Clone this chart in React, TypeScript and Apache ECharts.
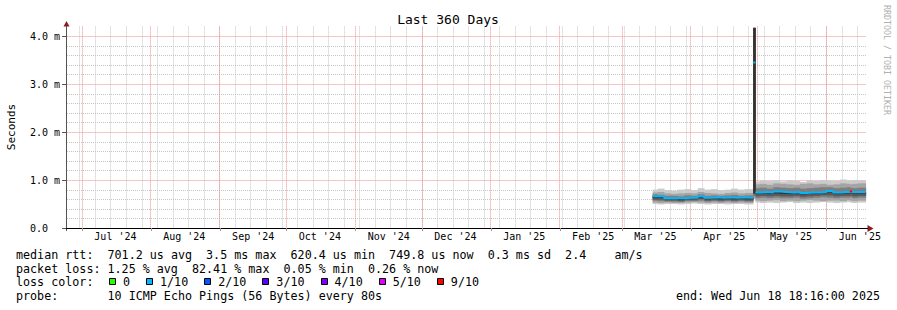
import React, { useEffect, useRef } from 'react';
import * as echarts from 'echarts';

const MONO = '"DejaVu Sans Mono", "Liberation Mono", monospace';

const TITLE = 'Last 360 Days';
const Y_AXIS_NAME = 'Seconds';
const WATERMARK = 'RRDTOOL / TOBI OETIKER';

const END_TIME = '2025-06-18T18:16:00Z';
const SPAN_DAYS = 360;

const MONTH_STARTS = ['2024-07-01', '2024-08-01', '2024-09-01', '2024-10-01', '2024-11-01', '2024-12-01', '2025-01-01', '2025-02-01', '2025-03-01', '2025-04-01', '2025-05-01', '2025-06-01'];
const MONTH_LABELS = ["Jul '24", "Aug '24", "Sep '24", "Oct '24", "Nov '24", "Dec '24", "Jan '25", "Feb '25", "Mar '25", "Apr '25", "May '25", "Jun '25"];
const MONTH_LABEL_OFFSET_DAYS = 15;
const FIRST_WEEK_LINE = '2024-06-30';

const Y_MAX = 4.2;
const Y_MAJOR = [0, 1, 2, 3, 4];
const Y_LABELS = ['0.0', '1.0 m', '2.0 m', '3.0 m', '4.0 m'];
const Y_MINOR = [0.2, 0.4, 0.6, 0.8, 1.2, 1.4, 1.6, 1.8, 2.2, 2.4, 2.6, 2.8, 3.2, 3.4, 3.6, 3.8];

// data slots (start of each consolidated step), last slot ends at DATA_END
const SLOT_STARTS = [
  '2025-03-14T18:00:00Z', '2025-03-17', '2025-03-20', '2025-03-23', '2025-03-26', '2025-03-29', '2025-04-01', '2025-04-04',
  '2025-04-07', '2025-04-10', '2025-04-13', '2025-04-16', '2025-04-19', '2025-04-22', '2025-04-25',
  '2025-04-29',
  '2025-04-30', '2025-05-02', '2025-05-05', '2025-05-08', '2025-05-11', '2025-05-14', '2025-05-17', '2025-05-20',
  '2025-05-23', '2025-05-26', '2025-05-29', '2025-06-01', '2025-06-04', '2025-06-07', '2025-06-10', '2025-06-11T12:00:00Z',
  '2025-06-12T12:00:00Z', '2025-06-15',
];
const DATA_END = '2025-06-18T16:00:00Z';

// median rtt (ms)
const MEDIAN = [
  0.66, 0.66, 0.62, 0.62, 0.62, 0.63, 0.63, 0.66, 0.63, 0.64, 0.63, 0.64, 0.63, 0.64, 0.63,
  3.45,
  0.74, 0.75, 0.74, 0.76, 0.75, 0.74, 0.75, 0.73, 0.74, 0.74, 0.75, 0.77, 0.74, 0.75, 0.75, 0.76, 0.75, 0.75,
];
// packet loss (%)
const LOSS_PCT = [
  0.5, 1.2, 0.8, 0.6, 1.0, 0.9, 0.7, 1.1, 0.6, 0.8, 0.9, 0.7, 1.0, 0.8, 0.6,
  2.1,
  0.4, 0.6, 0.5, 0.3, 0.7, 0.5, 0.4, 0.6, 0.5, 0.3, 0.5, 0.4, 0.6, 0.5, 0.4, 82.41, 0.3, 0.26,
];

// smoke: ping spread (ms), outer pair -> center pair
const SMOKE1_HI = [
  0.80, 0.82, 0.79, 0.78, 0.80, 0.81, 0.79, 0.83, 0.80, 0.81, 0.79, 0.80, 0.82, 0.80, 0.81,
  4.17,
  0.97, 0.99, 0.98, 1.00, 0.97, 0.99, 0.98, 0.96, 0.99, 0.98, 1.00, 0.99, 0.98, 1.01, 0.99, 0.98, 1.00, 0.99,
];
const SMOKE1_LO = [
  0.50, 0.49, 0.50, 0.50, 0.49, 0.50, 0.51, 0.50, 0.49, 0.50, 0.50, 0.49, 0.50, 0.50, 0.49,
  0.60,
  0.53, 0.52, 0.53, 0.52, 0.53, 0.54, 0.52, 0.53, 0.52, 0.53, 0.54, 0.53, 0.52, 0.53, 0.54, 0.53, 0.52, 0.53,
];
const SMOKE2_HI = [
  0.74, 0.75, 0.72, 0.71, 0.72, 0.73, 0.72, 0.75, 0.73, 0.72, 0.71, 0.73, 0.74, 0.72, 0.73,
  4.17,
  0.91, 0.92, 0.90, 0.93, 0.92, 0.91, 0.90, 0.92, 0.93, 0.91, 0.92, 0.90, 0.91, 0.93, 0.92, 0.91, 0.92, 0.93,
];
const SMOKE2_LO = [
  0.53, 0.52, 0.53, 0.52, 0.52, 0.53, 0.54, 0.53, 0.52, 0.53, 0.52, 0.53, 0.52, 0.53, 0.52,
  0.62,
  0.57, 0.56, 0.57, 0.58, 0.56, 0.57, 0.56, 0.57, 0.58, 0.57, 0.56, 0.57, 0.57, 0.56, 0.58, 0.57, 0.56, 0.57,
];
const SMOKE3_HI = [
  0.70, 0.69, 0.67, 0.67, 0.66, 0.68, 0.67, 0.70, 0.67, 0.68, 0.67, 0.68, 0.69, 0.67, 0.68,
  4.17,
  0.83, 0.84, 0.82, 0.85, 0.84, 0.83, 0.84, 0.82, 0.83, 0.84, 0.85, 0.85, 0.83, 0.84, 0.85, 0.84, 0.83, 0.84,
];
const SMOKE3_LO = [
  0.57, 0.56, 0.55, 0.55, 0.54, 0.56, 0.56, 0.57, 0.55, 0.56, 0.55, 0.56, 0.55, 0.56, 0.55,
  0.66,
  0.62, 0.63, 0.62, 0.63, 0.62, 0.62, 0.63, 0.61, 0.62, 0.63, 0.64, 0.63, 0.62, 0.63, 0.63, 0.64, 0.62, 0.63,
];
const SMOKE4_HI = [
  0.66, 0.66, 0.62, 0.62, 0.61, 0.63, 0.63, 0.66, 0.62, 0.63, 0.62, 0.64, 0.63, 0.63, 0.63,
  4.17,
  0.74, 0.75, 0.73, 0.75, 0.74, 0.73, 0.74, 0.72, 0.73, 0.73, 0.75, 0.76, 0.73, 0.74, 0.74, 0.75, 0.74, 0.74,
];
const SMOKE4_LO = [
  0.59, 0.59, 0.57, 0.57, 0.56, 0.58, 0.58, 0.60, 0.57, 0.58, 0.57, 0.58, 0.57, 0.58, 0.57,
  0.70,
  0.66, 0.67, 0.66, 0.67, 0.66, 0.66, 0.67, 0.65, 0.66, 0.67, 0.68, 0.68, 0.66, 0.67, 0.67, 0.68, 0.66, 0.67,
];
const SMOKE5_HI = [
  0.66, 0.66, 0.62, 0.62, 0.62, 0.63, 0.63, 0.66, 0.63, 0.64, 0.63, 0.64, 0.63, 0.64, 0.63,
  4.17,
  0.74, 0.75, 0.74, 0.76, 0.75, 0.74, 0.75, 0.73, 0.74, 0.74, 0.75, 0.77, 0.74, 0.75, 0.75, 0.76, 0.75, 0.75,
];
const SMOKE5_LO = [
  0.63, 0.63, 0.60, 0.60, 0.59, 0.61, 0.61, 0.63, 0.60, 0.61, 0.60, 0.61, 0.60, 0.61, 0.60,
  0.72,
  0.71, 0.72, 0.71, 0.72, 0.71, 0.71, 0.72, 0.70, 0.71, 0.71, 0.72, 0.74, 0.71, 0.72, 0.72, 0.73, 0.72, 0.72,
];
const SMOKE_COLORS = ['#cacaca', '#a4a4a4', '#7e7e7e', '#585858', '#323232'];

// loss colour legend
const LOSS_THRESHOLDS = [0, 1, 2, 3, 4, 5, 9]; // lost pings out of 10
const LOSS_LABELS = ['0', '1/10', '2/10', '3/10', '4/10', '5/10', '9/10'];
const LOSS_COLORS = ['#26ff00', '#00b8ff', '#0059ff', '#5e00ff', '#7e00ff', '#dd00ff', '#ff0000'];
const PINGS = 10;

const LEGEND_LINE1 = 'median rtt:  701.2 us avg  3.5 ms max  620.4 us min  749.8 us now  0.3 ms sd  2.4    am/s';
const LEGEND_LINE2 = 'packet loss: 1.25 % avg  82.41 % max  0.05 % min  0.26 % now';
const LEGEND_LOSS = 'loss color:';
const LEGEND_PROBE = 'probe:       10 ICMP Echo Pings (56 Bytes) every 80s';
const LEGEND_END = 'end: Wed Jun 18 18:16:00 2025';

const DAY = 86400000;
const toMs = (s: string) => Date.parse(s.length === 10 ? s + 'T00:00:00Z' : s);

const CW = 7.04; // legend char advance
const LEG_FONT = `11.7px ${MONO}`;
const MINOR_GRID = '#c6c6c6';
const MAJOR_GRID = '#f08c8c';

function tokens(line: string, x0: number, y: number): any[] {
  const out: any[] = [];
  const re = /\S+/g;
  let m: RegExpExecArray | null;
  while ((m = re.exec(line))) {
    out.push({
      type: 'text',
      x: x0 + m.index * CW,
      y,
      silent: true,
      style: { text: m[0], font: LEG_FONT, fill: '#000', align: 'left', verticalAlign: 'middle', textAlign: 'left', textVerticalAlign: 'middle' },
    });
  }
  return out;
}

function lossClass(pct: number): number {
  const lost = (pct / 100) * PINGS;
  for (let i = 0; i < LOSS_THRESHOLDS.length; i++) if (lost <= LOSS_THRESHOLDS[i]) return i;
  return LOSS_THRESHOLDS.length - 1;
}

export default function App() {
  const ref = useRef<HTMLDivElement>(null);

  useEffect(() => {
    if (!ref.current) return;
    const chart = echarts.init(ref.current, undefined, { renderer: 'svg' });

    const endMs = toMs(END_TIME);
    const startMs = endMs - SPAN_DAYS * DAY;
    const monthMs = MONTH_STARTS.map(toMs);
    const midMs = monthMs.map((t) => t + MONTH_LABEL_OFFSET_DAYS * DAY);
    const weekMs: number[] = [];
    for (let t = toMs(FIRST_WEEK_LINE); t < endMs; t += 7 * DAY) weekMs.push(t);

    const slots = SLOT_STARTS.map(toMs);
    const dataEnd = toMs(DATA_END);
    const n = slots.length;
    const slotEnds = slots.map((t, i) => (i + 1 < n ? slots[i + 1] : dataEnd));

    const layers = [
      [SMOKE1_LO, SMOKE1_HI],
      [SMOKE2_LO, SMOKE2_HI],
      [SMOKE3_LO, SMOKE3_HI],
      [SMOKE4_LO, SMOKE4_HI],
      [SMOKE5_LO, SMOKE5_HI],
    ];

    const series: any[] = [];

    // grid lines: one custom series per style; rows = [orientation (0 horizontal at y, 1 vertical at x), value]
    const gridSeries = (rows: number[][], stroke: string, hOffset: number, z: number) => ({
      type: 'custom',
      silent: true,
      z,
      data: rows,
      encode: { x: -1, y: -1 },
      renderItem: (params: any, api: any) => {
        const cs = params.coordSys;
        const horiz = api.value(0) === 0;
        const v = api.value(1);
        if (horiz) {
          const y = Math.round(api.coord([startMs, v])[1]) + 0.5;
          return { type: 'line', shape: { x1: cs.x + 1 + hOffset, y1: y, x2: cs.x + cs.width, y2: y }, style: { stroke, lineWidth: 1, lineDash: [1, 1] } };
        }
        const x = Math.floor(api.coord([v, 0])[0]) + 0.5;
        return { type: 'line', shape: { x1: x, y1: cs.y, x2: x, y2: cs.y + cs.height }, style: { stroke, lineWidth: 1, lineDash: [1, 1] } };
      },
    });
    series.push(gridSeries([...Y_MINOR.map((v) => [0, v]), ...weekMs.map((t) => [1, t])], MINOR_GRID, 0, 1));
    series.push(gridSeries([...Y_MAJOR.filter((v) => v > 0).map((v) => [0, v]), ...monthMs.map((t) => [1, t])], MAJOR_GRID, 0.5, 1));

    // smoke (one custom series per ping-pair layer, outer first)
    layers.forEach(([lo, hi], li) => {
      const data = slots.map((t, i) => [t, slotEnds[i], lo[i], hi[i]]);
      series.push({
        type: 'custom',
        silent: true,
        z: 2,
        data,
        encode: { x: [0, 1], y: [2, 3] },
        renderItem: (params: any, api: any) => {
          const a = api.coord([api.value(0), api.value(3)]);
          const b = api.coord([api.value(1), api.value(2)]);
          return {
            type: 'rect',
            shape: { x: a[0], y: a[1], width: b[0] - a[0] + 0.3, height: b[1] - a[1] },
            style: { fill: SMOKE_COLORS[li], stroke: null },
          };
        },
      });
    });

    // median, coloured by loss class
    const classes = LOSS_PCT.map(lossClass);
    const runs: { cls: number; pts: number[][] }[] = [];
    let cur: { cls: number; pts: number[][] } | null = null;
    for (let i = 0; i < n; i++) {
      const brk = !cur || cur.cls !== classes[i] || Math.abs(MEDIAN[i] - MEDIAN[i - 1]) > 1;
      if (brk) {
        if (cur) { cur.pts.push([slots[i], MEDIAN[i - 1]]); runs.push(cur); }
        cur = { cls: classes[i], pts: [] };
      }
      cur!.pts.push([slots[i], MEDIAN[i]]);
    }
    if (cur) { cur.pts.push([dataEnd, MEDIAN[n - 1]]); runs.push(cur); }
    LOSS_COLORS.forEach((color, ci) => {
      const data: any[] = [];
      runs.filter((r) => r.cls === ci).forEach((r) => {
        if (data.length) data.push([r.pts[0][0], null]);
        r.pts.forEach((p) => data.push(p));
      });
      if (!data.length) return;
      series.push({
        type: 'line', step: 'end', data, symbol: 'none', silent: true, z: 4, connectNulls: false,
        lineStyle: { color, width: 2 },
      });
    });

    const graphic: any[] = [];
    graphic.push({
      type: 'text', x: 448, y: 19, silent: true,
      style: { text: TITLE, font: `13px ${MONO}`, fill: '#000', align: 'center', verticalAlign: 'middle', textAlign: 'center', textVerticalAlign: 'middle' },
    });
    graphic.push({
      type: 'text', x: 11, y: 127, rotation: Math.PI / 2, silent: true,
      style: { text: Y_AXIS_NAME, font: `11px ${MONO}`, fill: '#000', align: 'center', verticalAlign: 'middle', textAlign: 'center', textVerticalAlign: 'middle' },
    });
    graphic.push({
      type: 'text', x: 887, y: 60, rotation: -Math.PI / 2, silent: true,
      style: { text: WATERMARK, font: `8.3px ${MONO}`, fill: '#b0b0b0', align: 'center', verticalAlign: 'middle', textAlign: 'center', textVerticalAlign: 'middle' },
    });
    // axis arrows
    graphic.push({ type: 'polygon', silent: true, shape: { points: [[63.5, 26.5], [69.5, 26.5], [66.5, 21]] }, style: { fill: '#8c1c1c' } });
    graphic.push({ type: 'polygon', silent: true, shape: { points: [[867.5, 225], [867.5, 232], [873.5, 228.5]] }, style: { fill: '#8c1c1c' } });
    graphic.push({ type: 'line', silent: true, shape: { x1: 865, y1: 228.5, x2: 868, y2: 228.5 }, style: { stroke: '#000', lineWidth: 1 } });
    graphic.push({ type: 'line', silent: true, shape: { x1: 66.5, y1: 228, x2: 66.5, y2: 231 }, style: { stroke: '#555', lineWidth: 1 } });

    // legend
    const L1 = 255, L2 = 268.5, L3 = 282, L4 = 296;
    graphic.push(...tokens(LEGEND_LINE1, 16, L1));
    graphic.push(...tokens(LEGEND_LINE2, 16, L2));
    graphic.push(...tokens(LEGEND_LOSS, 16, L3));
    let bx = 109;
    LOSS_LABELS.forEach((lab, i) => {
      const rx = Math.round(bx);
      graphic.push({ type: 'rect', silent: true, shape: { x: rx + 0.5, y: L3 - 3.5, width: 6, height: 6 }, style: { fill: LOSS_COLORS[i], stroke: '#000', lineWidth: 1 } });
      graphic.push(...tokens(lab, bx + 14, L3));
      bx = bx + 14 + lab.length * CW + 16;
    });
    graphic.push(...tokens(LEGEND_PROBE, 16, L4));
    graphic.push({
      type: 'text', x: 880, y: L4, silent: true,
      style: { text: LEGEND_END, font: LEG_FONT, fill: '#000', align: 'right', verticalAlign: 'middle', textAlign: 'right', textVerticalAlign: 'middle' },
    });

    chart.setOption({
      animation: false,
      backgroundColor: '#ffffff',
      grid: { left: 66, top: 26.4, width: 800, height: 201.6, containLabel: false, outerBoundsMode: 'none' },
      xAxis: {
        type: 'value', min: startMs, max: endMs,
        axisLine: { show: true, lineStyle: { color: '#000', width: 1 } },
        axisTick: { show: true, customValues: monthMs, length: 3, lineStyle: { color: '#999' } },
        axisLabel: {
          show: true, customValues: midMs, margin: 3,
          formatter: (v: number) => { const i = midMs.indexOf(v); return i >= 0 ? MONTH_LABELS[i] : ''; },
          fontFamily: MONO, fontSize: 10, color: '#000', hideOverlap: false,
        },
        splitLine: { show: false },
      },
      yAxis: {
        type: 'value', min: 0, max: Y_MAX,
        axisLine: { show: true, lineStyle: { color: '#555', width: 1 } },
        axisTick: { show: true, customValues: Y_MAJOR, length: 4, lineStyle: { color: '#555' } },
        axisLabel: {
          show: true, customValues: Y_MAJOR, margin: 36, align: 'left',
          formatter: (v: number) => { const i = Y_MAJOR.indexOf(v); return i >= 0 ? Y_LABELS[i] : ''; },
          fontFamily: MONO, fontSize: 10, color: '#000',
        },
        splitLine: { show: false },
      },
      series,
      graphic,
    });

    return () => chart.dispose();
  }, []);

  return <div ref={ref} style={{ position: 'absolute', left: 0, top: 0, width: 897, height: 310 }} />;
}
